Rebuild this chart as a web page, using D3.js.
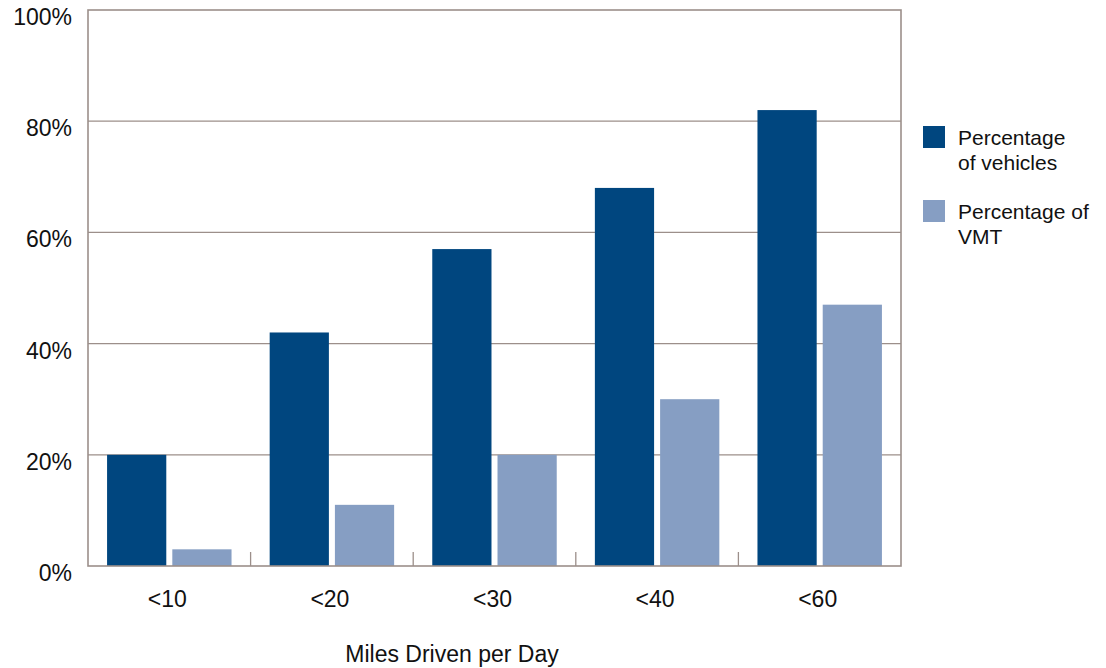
<!DOCTYPE html>
<html><head><meta charset="utf-8">
<script src="https://cdn.jsdelivr.net/npm/d3@7"></script>
<style>body{margin:0;background:#fff;} text{font-family:"Liberation Sans",Arial,Helvetica,sans-serif;fill:#111;}</style>
</head><body>
<svg id="c" width="1106" height="668"></svg>
<script>
const categories = ["<10","<20","<30","<40","<60"];
const seriesNames = ["Percentage of vehicles","Percentage of VMT"];
const vehicles = [20,42,57,68,82];
const vmt = [3,11,20,30,47];
const yTicks = [0,20,40,60,80,100];
const colors = ["#00467f","#869ec3"];
const legendLines = [["Percentage","of vehicles"],["Percentage of","VMT"]];

const svg = d3.select("#c");
const L=88, R=901, T=10, B=566;
const frameColor = "#9c8f8a";

const x0 = d3.scaleBand().domain(categories).range([L,R]).padding(0);
const x1 = d3.scaleBand().domain(seriesNames).range([0,x0.bandwidth()]).paddingInner(6/65).paddingOuter(19/65);
const y = d3.scaleLinear().domain([0,100]).range([B,T]);

// gridlines
svg.append("g").selectAll("line").data(yTicks.filter(d=>d>0&&d<100)).join("line")
  .attr("x1",L).attr("x2",R).attr("y1",d=>y(d)).attr("y2",d=>y(d))
  .attr("stroke",frameColor).attr("stroke-width",1.3);

// bars
const data = categories.map((c,i)=>({c, vals:[vehicles[i],vmt[i]]}));
const g = svg.append("g").selectAll("g").data(data).join("g")
  .attr("transform",d=>`translate(${x0(d.c)},0)`);
g.selectAll("rect").data(d=>d.vals.map((v,j)=>({s:seriesNames[j],v,j}))).join("rect")
  .attr("x",d=>x1(d.s)).attr("width",x1.bandwidth())
  .attr("y",d=>y(d.v)).attr("height",d=>B-y(d.v))
  .attr("fill",d=>colors[d.j]);

// frame
svg.append("rect").attr("x",L).attr("y",T).attr("width",R-L).attr("height",B-T)
  .attr("fill","none").attr("stroke",frameColor).attr("stroke-width",1.6);

// separators ticks
svg.append("g").selectAll("line").data(categories.slice(1)).join("line")
  .attr("x1",d=>x0(d)).attr("x2",d=>x0(d)).attr("y1",B-14).attr("y2",B)
  .attr("stroke",frameColor).attr("stroke-width",1.3);

// y labels
svg.append("g").selectAll("text").data(yTicks).join("text")
  .attr("x",72).attr("y",d=>y(d)+15).attr("text-anchor","end")
  .attr("font-size",23).text(d=>d+"%");

// x labels
svg.append("g").selectAll("text").data(categories).join("text")
  .attr("x",d=>x0(d)+x0.bandwidth()/2-2).attr("y",607).attr("text-anchor","middle")
  .attr("font-size",23).text(d=>d);

svg.append("text").attr("x",452).attr("y",662).attr("text-anchor","middle")
  .attr("font-size",23).text("Miles Driven per Day");

// legend
const lg = svg.append("g").selectAll("g").data(seriesNames).join("g")
  .attr("transform",(d,i)=>`translate(923,${126+i*74})`);
lg.append("rect").attr("width",22).attr("height",22).attr("fill",(d,i)=>colors[i]);
lg.each(function(d,i){
  const t = d3.select(this).append("text").attr("font-size",21);
  legendLines[i].forEach((ln,k)=>t.append("tspan").attr("x",35).attr("y",19+k*25).text(ln));
});
</script>
</body></html>
